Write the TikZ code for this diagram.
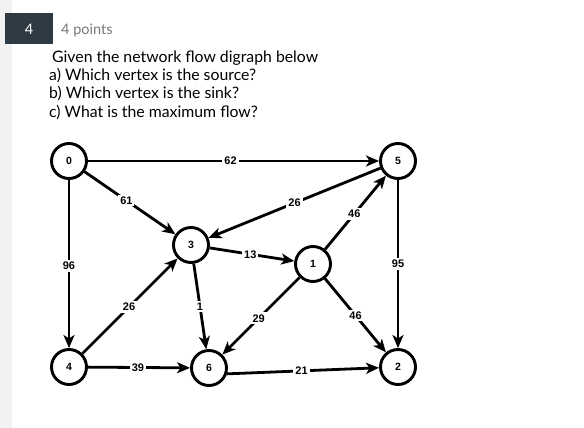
\documentclass[tikz,border=0pt]{standalone}
\usepackage{fontspec}
\setmainfont{Lato}
\newfontfamily\graphfont{Liberation Sans}
\usetikzlibrary{arrows.meta,positioning}
\definecolor{qbadge}{HTML}{2E3B44}
\definecolor{qgray}{HTML}{777777}
\definecolor{qstrip}{HTML}{F2F2F2}

\begin{document}
\begin{tikzpicture}[x=1pt,y=-1pt,
    vertex/.style={circle,draw,line width=2.9pt,minimum size=35pt,inner sep=0pt,
      font=\graphfont\fontsize{10.5}{12}\selectfont\bfseries},
    weight/.style={fill=white,inner sep=2pt,font=\graphfont\fontsize{11}{12}\selectfont\bfseries},
    flow/.style={-{Stealth[length=13pt,width=11pt,inset=3.5pt]},line width=2.8pt},
    question/.style={anchor=west,inner sep=0pt,font=\fontsize{15.8}{18}\selectfont}
  ]
    \useasboundingbox (0,0) rectangle (584,428);
    \fill[qstrip] (0,0) rectangle (12,428);

    % header
    \node[fill=qbadge,text=white,minimum width=48pt,minimum height=31pt,inner sep=0pt,
      font=\fontsize{14.5}{16}\selectfont] (badge) at (29,29) {4};
    \node[anchor=west,inner sep=0pt,text=qgray,font=\fontsize{14.5}{16}\selectfont] (pts) at (61,30) {4 points};

    % question text
    \node[question] (qg) at (52,58) {Given the network flow digraph below};
    \node[question] (qa) at (49,76) {a) Which vertex is the source?};
    \node[question] (qb) at (49,94) {b) Which vertex is the sink?};
    \node[question] (qc) at (49,113) {c) What is the maximum flow?};

    % vertices
    \node[vertex] (v0) at (69,161) {0};
    \node[vertex] (v5) at (398,161) {5};
    \node[vertex] (v3) at (191,245) {3};
    \node[vertex] (v1) at (313,264) {1};
    \node[vertex] (v4) at (69,367) {4};
    \node[vertex] (v6) at (209,368) {6};
    \node[vertex] (v2) at (398,367) {2};

    % edges
    \draw[flow] (v0) -- node[weight,pos=0.49] {62} (v5);
    \draw[flow] (v0) -- node[weight,pos=0.46] {61} (v3);
    \draw[flow] (v5) -- node[weight,pos=0.5] {26} (v3);
    \draw[flow] (v1) -- node[weight,pos=0.48] {46} (v5);
    \draw[flow] (v0) -- node[weight,pos=0.51] {96} (v4);
    \draw[flow] (v5) -- node[weight,pos=0.5] {95} (v2);
    \draw[flow] (v3) -- node[weight,pos=0.48] {13} (v1);
    \draw[flow] (v4) -- node[weight,pos=0.49] {26} (v3);
    \draw[flow] (v3) -- node[weight,pos=0.5] {1} (v6);
    \draw[flow] (v1) -- node[weight,pos=0.53] {29} (v6);
    \draw[flow] (v1) -- node[weight,pos=0.5] {46} (v2);
    \draw[flow] (v4) -- node[weight,pos=0.49] {39} (v6);
    \draw[flow] (v6.-18) -- node[weight,pos=0.49] {21} (v2);
  \end{tikzpicture}
\end{document}
